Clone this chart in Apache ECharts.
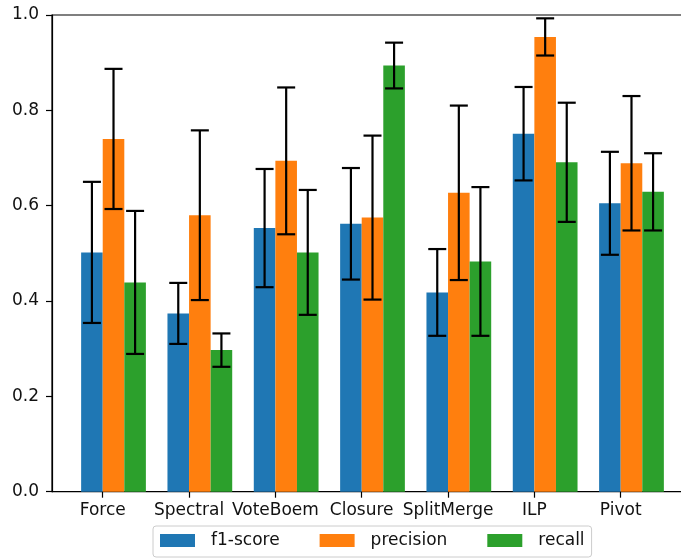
<!DOCTYPE html>
<html>
<head>
<meta charset="utf-8">
<script src="https://cdn.jsdelivr.net/npm/echarts@6/dist/echarts.min.js"></script>
<style>
  html, body { margin: 0; padding: 0; background: #fff; overflow: hidden; }
  /* the plot area runs a little past the right edge of the window */
  #chart { width: 720px; height: 558px; }
</style>
</head>
<body>
<div id="chart"></div>
<script>
// Clustering methods compared on three metrics (mean ± std)
const categories = ['Force', 'Spectral', 'VoteBoem', 'Closure', 'SplitMerge', 'ILP', 'Pivot'];

const f1Scores        = [0.502, 0.374, 0.553, 0.562, 0.418, 0.751, 0.605];
const f1Err           = [0.148, 0.064, 0.124, 0.117, 0.091, 0.098, 0.108];

const precisionScores = [0.740, 0.580, 0.694, 0.575, 0.627, 0.954, 0.689];
const precisionErr    = [0.147, 0.178, 0.154, 0.172, 0.183, 0.039, 0.141];

const recallScores    = [0.439, 0.297, 0.502, 0.894, 0.483, 0.691, 0.629];
const recallErr       = [0.150, 0.035, 0.131, 0.048, 0.156, 0.125, 0.081];

const yTicks = [0, 0.2, 0.4, 0.6, 0.8, 1.0];

const metrics = [
  { name: 'f1-score',  values: f1Scores,        errs: f1Err,        color: '#1f77b4' },
  { name: 'precision', values: precisionScores, errs: precisionErr, color: '#ff7f0e' },
  { name: 'recall',    values: recallScores,    errs: recallErr,    color: '#2ca02c' }
];

const BAR_W = 0.25;          // bar width in category units
const FONT = 'DejaVu Sans';
const FONT_SIZE = 17;
const TEXT_COLOR = '#111';

function barRenderer(color) {
  return function (params, api) {
    const x = api.value(0), v = api.value(1);
    const p0 = api.coord([x - BAR_W / 2, v]);
    const p1 = api.coord([x + BAR_W / 2, 0]);
    return {
      type: 'rect',
      shape: { x: p0[0], y: p0[1], width: p1[0] - p0[0], height: p1[1] - p0[1] },
      style: { fill: color }
    };
  };
}

function errRenderer(params, api) {
  const x = api.value(0), lo = api.value(1), hi = api.value(2);
  const top = api.coord([x, hi]);
  const bot = api.coord([x, lo]);
  const cap = 9;
  const st = { stroke: '#000', lineWidth: 2.2 };
  return {
    type: 'group',
    children: [
      { type: 'line', shape: { x1: top[0], y1: top[1], x2: bot[0], y2: bot[1] }, style: st },
      { type: 'line', shape: { x1: top[0] - cap, y1: top[1], x2: top[0] + cap, y2: top[1] }, style: st },
      { type: 'line', shape: { x1: bot[0] - cap, y1: bot[1], x2: bot[0] + cap, y2: bot[1] }, style: st }
    ]
  };
}

const series = [];
metrics.forEach((m, k) => {
  // groups are offset so the middle bar starts at the category tick
  const offset = -BAR_W / 2 + k * BAR_W;
  series.push({
    name: m.name,
    type: 'custom',
    color: m.color,
    itemStyle: { color: m.color },
    renderItem: barRenderer(m.color),
    encode: { x: 0, y: 1 },
    data: m.values.map((v, i) => [i + offset, v]),
    z: 2
  });
});
metrics.forEach((m, k) => {
  const offset = -BAR_W / 2 + k * BAR_W;
  series.push({
    name: m.name + ' err',
    type: 'custom',
    renderItem: errRenderer,
    encode: { x: 0, y: [1, 2] },
    data: m.values.map((v, i) => [i + offset, v - m.errs[i], v + m.errs[i]]),
    z: 5,
    silent: true
  });
});

const chart = echarts.init(document.getElementById('chart'), null, { renderer: 'canvas' });
chart.setOption({
  animation: false,
  backgroundColor: '#fff',
  textStyle: { fontFamily: FONT },
  grid: {
    left: 52, top: 15, right: 27, bottom: 66.3,
    show: true, borderColor: '#000', borderWidth: 1.2, backgroundColor: 'transparent'
  },
  xAxis: {
    type: 'value',
    min: -0.5875, max: 6.8375,
    splitLine: { show: false },
    axisLine: { show: true, onZero: false, lineStyle: { color: '#000', width: 1.2 } },
    axisTick: {
      show: true, length: 6, inside: false,
      customValues: categories.map((c, i) => i),
      lineStyle: { color: '#000', width: 1.2 }
    },
    axisLabel: {
      show: true, margin: 10,
      customValues: categories.map((c, i) => i),
      formatter: v => categories[Math.round(v)] || '',
      color: TEXT_COLOR, fontSize: FONT_SIZE, fontFamily: FONT
    }
  },
  yAxis: {
    type: 'value',
    min: 0, max: 1, interval: 0.2,
    splitLine: { show: false },
    axisLine: { show: true, onZero: false, lineStyle: { color: '#000', width: 1.2 } },
    axisTick: { show: true, length: 6, inside: false, lineStyle: { color: '#000', width: 1.2 } },
    axisLabel: {
      margin: 13,
      customValues: yTicks,
      formatter: v => v.toFixed(1),
      color: TEXT_COLOR, fontSize: FONT_SIZE, fontFamily: FONT
    }
  },
  legend: {
    data: metrics.map(m => ({ name: m.name, icon: 'rect' })),
    left: 153, top: 526,
    orient: 'horizontal',
    itemWidth: 35, itemHeight: 13, itemGap: 40,
    padding: [6, 7, 8, 7],
    borderColor: '#ccc', borderWidth: 1, borderRadius: 3,
    backgroundColor: '#fff',
    selectedMode: false,
    textStyle: { fontSize: FONT_SIZE, color: TEXT_COLOR, fontFamily: FONT, padding: [0, 0, 0, 11] }
  },
  series: series
});
</script>
</body>
</html>
